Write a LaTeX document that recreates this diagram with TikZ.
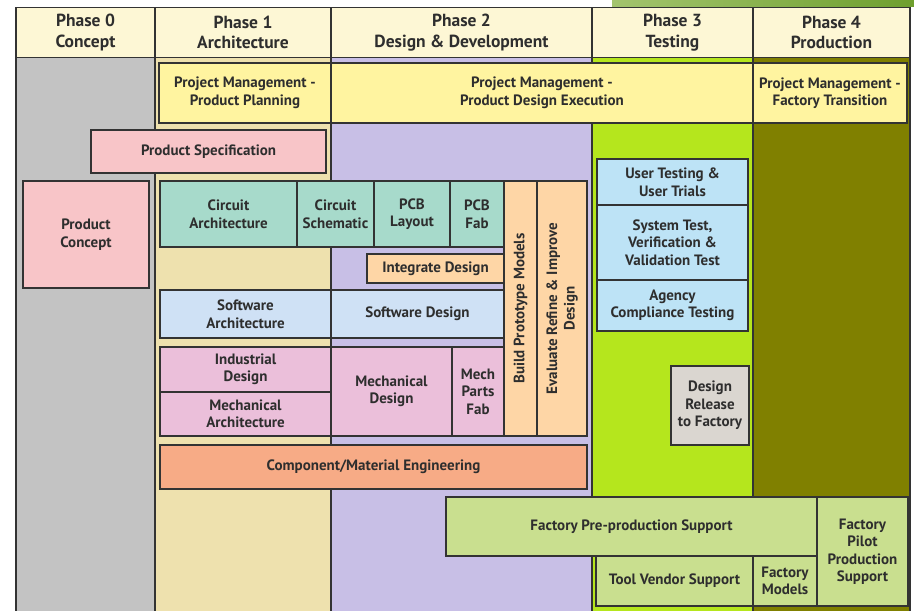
\documentclass[tikz,border=0pt]{standalone}
\usepackage{fontspec}
\setmainfont{PT Sans}
\usepackage{tikz}
\usetikzlibrary{positioning}
\usepackage{xcolor}

\definecolor{headcream}{HTML}{FDF7D5}
\definecolor{conceptgray}{HTML}{C3C3C3}
\definecolor{archwheat}{HTML}{EEE1AE}
\definecolor{designlav}{HTML}{C8BFE6}
\definecolor{testlime}{HTML}{B5E61D}
\definecolor{prodolive}{HTML}{808000}
\definecolor{pmyellow}{HTML}{FFF4A0}
\definecolor{specpink}{HTML}{F8C5C8}
\definecolor{circteal}{HTML}{A7DACB}
\definecolor{protopeach}{HTML}{FED6A6}
\definecolor{swblue}{HTML}{CFE1F5}
\definecolor{testblue}{HTML}{BDE3F6}
\definecolor{mechpink}{HTML}{EBBFDA}
\definecolor{compsalmon}{HTML}{F7AB86}
\definecolor{releasegray}{HTML}{DAD6D0}
\definecolor{factgreen}{HTML}{C9DF8F}
\definecolor{edgegray}{HTML}{333333}
\definecolor{stripleft}{HTML}{A3C46E}
\definecolor{stripright}{HTML}{6E9F2E}

\begin{document}
\begin{tikzpicture}[x=1pt, y=-1pt, line width=1.6pt,
    phase/.style={draw=edgegray, fill=headcream, inner sep=0pt, outer sep=0pt, align=center,
        font=\fontsize{17.5}{20.5}\selectfont\bfseries, text=edgegray!90!black},
    box/.style={draw=edgegray, inner sep=0pt, outer sep=0pt, align=center,
        font=\fontsize{15}{17.5}\selectfont\bfseries, text=edgegray!90!black},
    upbox/.style={box, rotate=90}]
    \useasboundingbox (0,0) rectangle (914,611);

    % background strip at the top right
    \shade[left color=stripleft, right color=stripright] (612,0) rectangle (914,6);

    % phase columns
    \filldraw[draw=edgegray, fill=conceptgray] (16,57) rectangle (155,615);
    \filldraw[draw=edgegray, fill=archwheat] (155,57) rectangle (331,615);
    \filldraw[draw=edgegray, fill=designlav] (331,57) rectangle (592,615);
    \filldraw[draw=edgegray, fill=testlime] (592,57) rectangle (753,615);
    \filldraw[draw=edgegray, fill=prodolive] (753,57) rectangle (910,615);

    % phase headers
    \node[phase, minimum width=139, minimum height=50] (ph0) at (85.5,32.5) {Phase 0\\Concept};
    \node[phase, minimum width=176, minimum height=50] (ph1) at (243,32.5) {Phase 1\\Architecture};
    \node[phase, minimum width=261, minimum height=50] (ph2) at (461.5,32.5) {Phase 2\\Design \& Development};
    \node[phase, minimum width=161, minimum height=50] (ph3) at (672.5,32.5) {Phase 3\\Testing};
    \node[phase, minimum width=157, minimum height=50] (ph4) at (831.5,32.5) {Phase 4\\Production};

    % project management
    \node[box, fill=pmyellow, minimum width=172, minimum height=60] (pmplan) at (245,93) {Project Management -\\Product Planning};
    \node[box, fill=pmyellow, minimum width=422, minimum height=60] (pmexec) at (542,93) {Project Management -\\Product Design Execution};
    \node[box, fill=pmyellow, minimum width=154, minimum height=60] (pmfact) at (830,93) {Project Management -\\Factory Transition};

    % concept and specification
    \node[box, fill=specpink, minimum width=235, minimum height=43] (spec) at (208.5,151.5) {Product Specification};
    \node[box, fill=specpink, minimum width=126, minimum height=107] (concept) at (86,234.5) {Product\\Concept};

    % circuit track
    \node[box, fill=circteal, minimum width=137, minimum height=66] (circarch) at (228.5,214) {Circuit\\Architecture};
    \node[box, fill=circteal, minimum width=77, minimum height=66] (schem) at (335.5,214) {Circuit\\Schematic};
    \node[box, fill=circteal, minimum width=76, minimum height=66] (layout) at (412,214) {PCB\\Layout};
    \node[box, fill=circteal, minimum width=54, minimum height=66] (pcbfab) at (477,214) {PCB\\Fab};
    \node[box, fill=protopeach, minimum width=137, minimum height=29] (integ) at (435.5,268.5) {Integrate Design};

    % prototype and evaluation
    \node[upbox, fill=protopeach, minimum width=255, minimum height=33] (build) at (520.5,308.5) {Build Prototype Models};
    \node[upbox, fill=protopeach, minimum width=255, minimum height=50] (evalref) at (562,308.5) {Evaluate Refine \& Improve\\Design};

    % software track
    \node[box, fill=swblue, minimum width=171, minimum height=48] (swarch) at (245.5,314) {Software\\Architecture};
    \node[box, fill=swblue, minimum width=173, minimum height=48] (swdes) at (417.5,314) {Software Design};

    % mechanical track
    \node[box, fill=mechpink, minimum width=171, minimum height=45] (indus) at (245.5,369.5) {Industrial\\Design};
    \node[box, fill=mechpink, minimum width=171, minimum height=44] (mecharch) at (245.5,414) {Mechanical\\Architecture};
    \node[box, fill=mechpink, minimum width=121, minimum height=89] (mechdes) at (391.5,391.5) {Mechanical\\Design};
    \node[box, fill=mechpink, minimum width=52, minimum height=89] (partsfab) at (478,391.5) {Mech\\Parts\\Fab};

    \node[box, fill=compsalmon, minimum width=427, minimum height=44] (compeng) at (373.5,467) {Component/Material Engineering};

    % testing
    \node[box, fill=testblue, minimum width=151, minimum height=46] (usertest) at (672.5,182) {User Testing \&\\User Trials};
    \node[box, fill=testblue, minimum width=151, minimum height=75] (systest) at (672.5,242.5) {System Test,\\Verification \&\\Validation Test};
    \node[box, fill=testblue, minimum width=151, minimum height=51] (agency) at (672.5,305.5) {Agency\\Compliance Testing};
    \node[box, fill=releasegray, minimum width=78, minimum height=79] (release) at (710,405.5) {Design\\Release\\to Factory};

    % factory support
    \node[box, fill=factgreen, minimum width=371, minimum height=59] (preprod) at (631.5,526.5) {Factory Pre-production Support};
    \node[box, fill=factgreen, minimum width=157, minimum height=50] (toolvend) at (674.5,581) {Tool Vendor Support};
    \node[box, fill=factgreen, minimum width=64, minimum height=50] (models) at (785,581) {Factory\\Models};
    \node[box, fill=factgreen, minimum width=91, minimum height=109] (pilot) at (862.5,551.5) {Factory\\Pilot\\Production\\Support};
\end{tikzpicture}
\end{document}
